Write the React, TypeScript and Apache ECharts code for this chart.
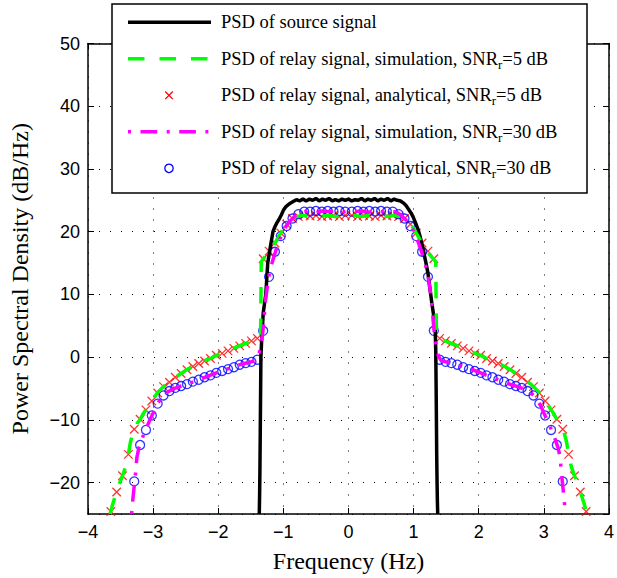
import React, { useEffect, useRef } from "react";
import * as echarts from "echarts";

// ---- axis ranges ----
const X_MIN = -4;
const X_MAX = 4;
const Y_MIN = -25;
const Y_MAX = 50;

// ---- legend labels ----
const legendLabels = [
  "PSD of source signal",
  "PSD of relay signal, simulation, SNR{s|r}=5 dB",
  "PSD of relay signal, analytical, SNR{s|r}=5 dB",
  "PSD of relay signal, simulation, SNR{s|r}=30 dB",
  "PSD of relay signal, analytical, SNR{s|r}=30 dB",
];
const seriesNames = [
  "PSD of source signal",
  "PSD of relay signal, simulation, SNRr=5 dB",
  "PSD of relay signal, analytical, SNRr=5 dB",
  "PSD of relay signal, simulation, SNRr=30 dB",
  "PSD of relay signal, analytical, SNRr=30 dB",
];

// ---- data: [frequency (Hz), PSD (dB/Hz)] ----
const sourcePsd = [
  [-1.37, -25], [-1.365, -22], [-1.36, -18], [-1.355, -12], [-1.35, -6], [-1.345, 0],
  [-1.33, 3.5], [-1.32, 5], [-1.31, 7], [-1.29, 8.5], [-1.27, 10], [-1.255, 12.5],
  [-1.24, 15], [-1.2, 17.6], [-1.16, 20], [-1.13, 20.8], [-1.1, 21.4], [-1.06, 22.1],
  [-1.03, 22.7], [-1.0, 23.4], [-0.96, 24], [-0.9, 24.5], [-0.85, 24.8], [-0.8, 25.1],
  [-0.75, 24.9], [-0.7, 25.2], [-0.65, 24.9], [-0.6, 25.2], [-0.55, 25.0], [-0.5, 25.3],
  [-0.45, 24.9], [-0.4, 25.2], [-0.35, 25.0], [-0.3, 25.3], [-0.25, 24.9], [-0.2, 25.1],
  [-0.15, 24.9], [-0.1, 25.2], [-0.05, 25.0], [0, 25.2], [0.05, 24.9], [0.1, 25.1],
  [0.15, 25.0], [0.2, 25.3], [0.25, 24.9], [0.3, 25.2], [0.35, 25.0], [0.4, 25.3],
  [0.45, 24.9], [0.5, 25.2], [0.55, 25.0], [0.6, 25.3], [0.65, 24.9], [0.7, 25.2],
  [0.75, 25.0], [0.8, 24.9], [0.84, 24.6], [0.88, 24.2], [0.92, 23.6], [0.96, 23.0],
  [0.99, 22.4], [1.03, 21.4], [1.07, 20.3], [1.11, 18.8], [1.15, 17.0], [1.19, 15.0],
  [1.22, 13.4], [1.25, 11.0], [1.28, 8.6], [1.31, 6.5], [1.33, 5.0], [1.34, 1.0],
  [1.345, -4], [1.35, -10], [1.355, -16], [1.36, -20], [1.365, -23], [1.37, -25],
];

const relaySim5 = [
  [-3.66, -25], [-3.62, -23.4], [-3.57, -21.8], [-3.52, -20.2], [-3.47, -18.9], [-3.42, -17.4],
  [-3.38, -15.5], [-3.35, -13.6], [-3.31, -12.0], [-3.26, -10.8], [-3.2, -9.9], [-3.15, -9.0],
  [-3.1, -8.2], [-3.05, -7.4], [-3.0, -6.7], [-2.95, -5.9], [-2.9, -5.3], [-2.85, -4.8],
  [-2.8, -4.3], [-2.7, -3.5], [-2.6, -2.8], [-2.5, -2.1], [-2.4, -1.5], [-2.3, -1.0],
  [-2.2, -0.5], [-2.1, -0.1], [-2.0, 0.4], [-1.9, 0.8], [-1.8, 1.3], [-1.7, 1.7],
  [-1.6, 2.1], [-1.5, 2.5], [-1.42, 2.9], [-1.35, 3.2], [-1.345, 9], [-1.34, 15.2],
  [-1.3, 15.8], [-1.25, 16.4], [-1.2, 17.0], [-1.15, 17.8], [-1.1, 18.7], [-1.05, 19.6],
  [-1.0, 20.5], [-0.95, 21.2], [-0.9, 21.8], [-0.85, 22.2], [-0.8, 22.4], [-0.7, 22.6],
  [-0.6, 22.4], [-0.5, 22.6], [-0.4, 22.5], [-0.3, 22.6], [-0.2, 22.4], [-0.1, 22.6],
  [0, 22.5], [0.1, 22.6], [0.2, 22.4], [0.3, 22.6], [0.4, 22.5], [0.5, 22.6],
  [0.6, 22.4], [0.7, 22.6], [0.8, 22.4], [0.85, 22.2], [0.9, 21.8], [0.95, 21.2],
  [1.0, 20.5], [1.05, 19.6], [1.1, 18.7], [1.15, 17.8], [1.2, 17.0], [1.25, 16.3],
  [1.3, 15.7], [1.34, 15.2], [1.345, 9], [1.35, 3.2], [1.42, 2.9], [1.5, 2.5],
  [1.6, 2.1], [1.7, 1.7], [1.8, 1.3], [1.9, 0.8], [2.0, 0.4], [2.1, -0.1],
  [2.2, -0.5], [2.3, -1.0], [2.4, -1.5], [2.5, -2.1], [2.6, -2.8], [2.7, -3.5],
  [2.8, -4.3], [2.85, -4.8], [2.9, -5.3], [2.95, -5.9], [3.0, -6.7], [3.05, -7.4],
  [3.1, -8.2], [3.15, -9.0], [3.2, -9.9], [3.26, -10.8], [3.31, -12.0], [3.35, -13.6],
  [3.38, -15.5], [3.42, -17.4], [3.47, -18.9], [3.52, -20.2], [3.57, -21.8], [3.62, -23.4],
  [3.66, -25],
];

const relayAna5 = [
  [-3.65, -24.6], [-3.56, -21.5], [-3.47, -18.9], [-3.38, -15.5], [-3.29, -11.5], [-3.2, -9.9],
  [-3.11, -8.4], [-3.02, -7.0], [-2.93, -5.7], [-2.84, -4.7], [-2.75, -4.0], [-2.66, -3.2],
  [-2.57, -2.6], [-2.48, -2.0], [-2.39, -1.5], [-2.3, -1.0], [-2.21, -0.6], [-2.12, -0.2],
  [-2.03, 0.3], [-1.94, 0.6], [-1.85, 1.0], [-1.76, 1.4], [-1.67, 1.8], [-1.58, 2.2],
  [-1.49, 2.6], [-1.4, 3.0], [-1.31, 15.7], [-1.22, 16.9], [-1.13, 18.2], [-1.04, 19.8],
  [-0.95, 21.2], [-0.86, 22.1], [-0.77, 22.4], [-0.68, 22.6], [-0.59, 22.5], [-0.5, 22.6],
  [-0.41, 22.4], [-0.32, 22.5], [-0.23, 22.6], [-0.14, 22.4], [-0.05, 22.6],
  [0.05, 22.6], [0.14, 22.4], [0.23, 22.6], [0.32, 22.5], [0.41, 22.4], [0.5, 22.6],
  [0.59, 22.5], [0.68, 22.6], [0.77, 22.4], [0.86, 22.1], [0.95, 21.2], [1.04, 19.8],
  [1.13, 18.2], [1.22, 16.9], [1.31, 15.7], [1.4, 3.0], [1.49, 2.6], [1.58, 2.2],
  [1.67, 1.8], [1.76, 1.4], [1.85, 1.0], [1.94, 0.6], [2.03, 0.3], [2.12, -0.2],
  [2.21, -0.6], [2.3, -1.0], [2.39, -1.5], [2.48, -2.0], [2.57, -2.6], [2.66, -3.2],
  [2.75, -4.0], [2.84, -4.7], [2.93, -5.7], [3.02, -7.0], [3.11, -8.4], [3.2, -9.9],
  [3.29, -11.5], [3.38, -15.5], [3.47, -18.9], [3.56, -21.5], [3.65, -24.6],
];

const relaySim30 = [
  [-3.33, -25], [-3.31, -22.5], [-3.29, -20.5], [-3.27, -18.5], [-3.25, -16.0], [-3.22, -14.5],
  [-3.18, -13.3], [-3.14, -12.2], [-3.1, -11.2], [-3.05, -10.0], [-3.0, -8.9], [-2.95, -7.7],
  [-2.9, -6.9], [-2.85, -6.2], [-2.8, -5.7], [-2.7, -5.1], [-2.6, -4.7], [-2.5, -4.4],
  [-2.4, -4.0], [-2.3, -3.6], [-2.2, -3.2], [-2.1, -2.8], [-2.0, -2.4], [-1.9, -2.0],
  [-1.8, -1.7], [-1.7, -1.3], [-1.6, -1.0], [-1.5, -0.75], [-1.42, -0.5], [-1.38, 0.2],
  [-1.35, 1.8], [-1.32, 3.6], [-1.3, 5.8], [-1.28, 8.5], [-1.25, 11.0], [-1.22, 13.0],
  [-1.18, 14.8], [-1.14, 16.2], [-1.1, 17.5], [-1.05, 18.9], [-1.0, 20.1], [-0.95, 21.0],
  [-0.9, 21.7], [-0.85, 22.2], [-0.8, 22.7], [-0.75, 23.0], [-0.7, 23.2], [-0.6, 23.3],
  [-0.5, 23.1], [-0.4, 23.3], [-0.3, 23.2], [-0.2, 23.3], [-0.1, 23.1], [0, 23.3],
  [0.1, 23.2], [0.2, 23.3], [0.3, 23.1], [0.4, 23.3], [0.5, 23.2], [0.6, 23.3],
  [0.7, 23.2], [0.75, 23.0], [0.8, 22.7], [0.85, 22.2], [0.9, 21.7], [0.95, 21.0],
  [1.0, 20.1], [1.05, 18.9], [1.1, 17.5], [1.14, 16.2], [1.18, 14.8], [1.22, 13.0],
  [1.25, 11.0], [1.28, 8.5], [1.3, 5.8], [1.32, 3.6], [1.35, 1.8], [1.38, 0.2],
  [1.42, -0.5], [1.5, -0.75], [1.6, -1.0], [1.7, -1.3], [1.8, -1.7], [1.9, -2.0],
  [2.0, -2.4], [2.1, -2.8], [2.2, -3.2], [2.3, -3.6], [2.4, -4.0], [2.5, -4.4],
  [2.6, -4.7], [2.7, -5.1], [2.8, -5.7], [2.85, -6.2], [2.9, -6.9], [2.95, -7.7],
  [3.0, -8.9], [3.05, -10.0], [3.1, -11.2], [3.14, -12.2], [3.18, -13.3], [3.22, -14.5],
  [3.25, -16.0], [3.27, -18.5], [3.29, -20.5], [3.31, -22.5], [3.33, -25],
];

const relayAna30 = [
  [-3.29, -19.8], [-3.2, -14.0], [-3.11, -11.6], [-3.02, -9.3], [-2.93, -7.4], [-2.84, -6.1],
  [-2.75, -5.4], [-2.66, -4.9], [-2.57, -4.6], [-2.48, -4.3], [-2.39, -3.9], [-2.3, -3.6],
  [-2.21, -3.2], [-2.12, -2.9], [-2.03, -2.5], [-1.94, -2.2], [-1.85, -1.9], [-1.76, -1.6],
  [-1.67, -1.2], [-1.58, -0.95], [-1.49, -0.75], [-1.4, -0.4], [-1.31, 4.2], [-1.22, 12.8],
  [-1.13, 16.8], [-1.04, 19.3], [-0.95, 20.9], [-0.86, 22.1], [-0.77, 22.8], [-0.68, 23.2],
  [-0.59, 23.2], [-0.5, 23.3], [-0.41, 23.2], [-0.32, 23.3], [-0.23, 23.2], [-0.14, 23.3],
  [-0.05, 23.2], [0.05, 23.2], [0.14, 23.3], [0.23, 23.2], [0.32, 23.3], [0.41, 23.2],
  [0.5, 23.3], [0.59, 23.2], [0.68, 23.2], [0.77, 22.8], [0.86, 22.1], [0.95, 20.9],
  [1.04, 19.3], [1.13, 16.8], [1.22, 12.8], [1.31, 4.2], [1.4, -0.4], [1.49, -0.75],
  [1.58, -0.95], [1.67, -1.2], [1.76, -1.6], [1.85, -1.9], [1.94, -2.2], [2.03, -2.5],
  [2.12, -2.9], [2.21, -3.2], [2.3, -3.6], [2.39, -3.9], [2.48, -4.3], [2.57, -4.6],
  [2.66, -4.9], [2.75, -5.4], [2.84, -6.1], [2.93, -7.4], [3.02, -9.3], [3.11, -11.6],
  [3.2, -14.0], [3.29, -19.8],
];

const SERIF = "'Liberation Serif', 'Times New Roman', serif";
const SANS = "'Liberation Sans', Arial, sans-serif";

const fmtTick = (v: number) => (v < 0 ? "\u2212" + Math.abs(v) : String(v));

export default function App() {
  const ref = useRef<HTMLDivElement>(null);

  useEffect(() => {
    if (!ref.current) return;
    const chart = echarts.init(ref.current, undefined, { renderer: "svg" });

    const frameLine = { onZero: false, lineStyle: { color: "#000", width: 1.5 } };
    const tick = { inside: true, length: 6, lineStyle: { color: "#000", width: 1 } };
    const dotted = { show: true, lineStyle: { color: "#000", width: 1, type: [1, 10] } };

    const rowY = [22.3, 58.8, 95.3, 131.8, 168.3];
    const iconL = 128;
    const iconR = 211;
    const iconC = 169;
    const legendGraphics: any[] = [
      {
        type: "rect",
        z: 100,
        shape: { x: 112, y: 4, width: 475, height: 189 },
        style: { fill: "#fff", stroke: "#000", lineWidth: 1.5 },
      },
      {
        type: "line", z: 101,
        shape: { x1: iconL, y1: rowY[0], x2: iconR, y2: rowY[0] },
        style: { stroke: "#000", lineWidth: 3.5 },
      },
      {
        type: "line", z: 101,
        shape: { x1: iconL, y1: rowY[1], x2: iconR, y2: rowY[1] },
        style: { stroke: "#00ff00", lineWidth: 3.5, lineDash: [16.5, 15] },
      },
      {
        type: "line", z: 101,
        shape: { x1: iconC - 3.8, y1: rowY[2] - 3.8, x2: iconC + 3.8, y2: rowY[2] + 3.8 },
        style: { stroke: "#ff0000", lineWidth: 1.3 },
      },
      {
        type: "line", z: 101,
        shape: { x1: iconC - 3.8, y1: rowY[2] + 3.8, x2: iconC + 3.8, y2: rowY[2] - 3.8 },
        style: { stroke: "#ff0000", lineWidth: 1.3 },
      },
      {
        type: "line", z: 101,
        shape: { x1: iconL, y1: rowY[3], x2: iconR, y2: rowY[3] },
        style: { stroke: "#ff00ff", lineWidth: 3.5, lineDash: [3, 9.5, 16.7, 9.5] },
      },
      {
        type: "circle", z: 101,
        shape: { cx: iconC, cy: rowY[4], r: 4.2 },
        style: { fill: "none", stroke: "#0000ff", lineWidth: 1.3 },
      },
    ];
    legendLabels.forEach((label, i) => {
      legendGraphics.push({
        type: "text",
        z: 101,
        x: 221,
        y: rowY[i],
        style: {
          text: label,
          fill: "#000",
          fontFamily: SERIF,
          fontSize: 18.5,
          lineHeight: 24,
          verticalAlign: "middle",
          align: "left",
          rich: {
            s: { fontFamily: SERIF, fontSize: 13, lineHeight: 13, verticalAlign: "bottom", fill: "#000" },
          },
        },
      });
    });

    chart.setOption({
      animation: false,
      backgroundColor: "#fff",
      grid: { left: 87.5, right: 6.5, top: 43.5, bottom: 64 },
      xAxis: [
        {
          type: "value",
          min: X_MIN,
          max: X_MAX,
          interval: 1,
          position: "bottom",
          axisLine: frameLine,
          axisTick: tick,
          splitLine: dotted,
          axisLabel: { color: "#000", fontFamily: SANS, fontSize: 18, margin: 9, formatter: fmtTick },
          name: "Frequency (Hz)",
          nameLocation: "middle",
          nameGap: 35,
          nameTextStyle: { color: "#000", fontFamily: SERIF, fontSize: 24 },
        },
        {
          type: "value",
          min: X_MIN,
          max: X_MAX,
          interval: 1,
          position: "top",
          axisLine: frameLine,
          axisTick: tick,
          splitLine: { show: false },
          axisLabel: { show: false },
        },
      ],
      yAxis: [
        {
          type: "value",
          min: Y_MIN,
          max: Y_MAX,
          splitNumber: 8,
          position: "left",
          axisLine: frameLine,
          axisTick: tick,
          splitLine: dotted,
          axisLabel: {
            color: "#000",
            fontFamily: SANS,
            fontSize: 18,
            margin: 8,
            showMinLabel: false,
            formatter: (v: number) => (v % 10 === 0 ? fmtTick(v) : ""),
          },
          name: "Power Spectral Density (dB/Hz)",
          nameLocation: "middle",
          nameGap: 56,
          nameTextStyle: { color: "#000", fontFamily: SERIF, fontSize: 24 },
        },
        {
          type: "value",
          min: Y_MIN,
          max: Y_MAX,
          splitNumber: 8,
          position: "right",
          axisLine: frameLine,
          axisTick: tick,
          splitLine: { show: false },
          axisLabel: { show: false },
        },
      ],
      graphic: legendGraphics,
      series: [
        {
          name: seriesNames[0],
          type: "line",
          data: sourcePsd,
          symbol: "none",
          lineStyle: { color: "#000", width: 3.5 },
        },
        {
          name: seriesNames[1],
          type: "line",
          data: relaySim5,
          symbol: "none",
          lineStyle: { color: "#00ff00", width: 3.5, type: [16.5, 15] },
        },
        {
          name: seriesNames[2],
          type: "scatter",
          data: relayAna5,
          symbol: "path://M0 0L10 10M10 0L0 10",
          symbolSize: 8.5,
          itemStyle: { color: "rgba(0,0,0,0)", borderColor: "#ff0000", borderWidth: 1.3 },
        },
        {
          name: seriesNames[3],
          type: "line",
          data: relaySim30,
          symbol: "none",
          lineStyle: { color: "#ff00ff", width: 3.5, type: [3, 9.5, 16.7, 9.5] },
        },
        {
          name: seriesNames[4],
          type: "scatter",
          data: relayAna30,
          symbol: "circle",
          symbolSize: 9,
          itemStyle: { color: "rgba(0,0,0,0)", borderColor: "#0000ff", borderWidth: 1.3 },
        },
      ],
    });

    return () => chart.dispose();
  }, []);

  return (
    <div
      ref={ref}
      style={{ position: "fixed", left: 0, top: 0, width: 617, height: 578, background: "#fff" }}
    />
  );
}
